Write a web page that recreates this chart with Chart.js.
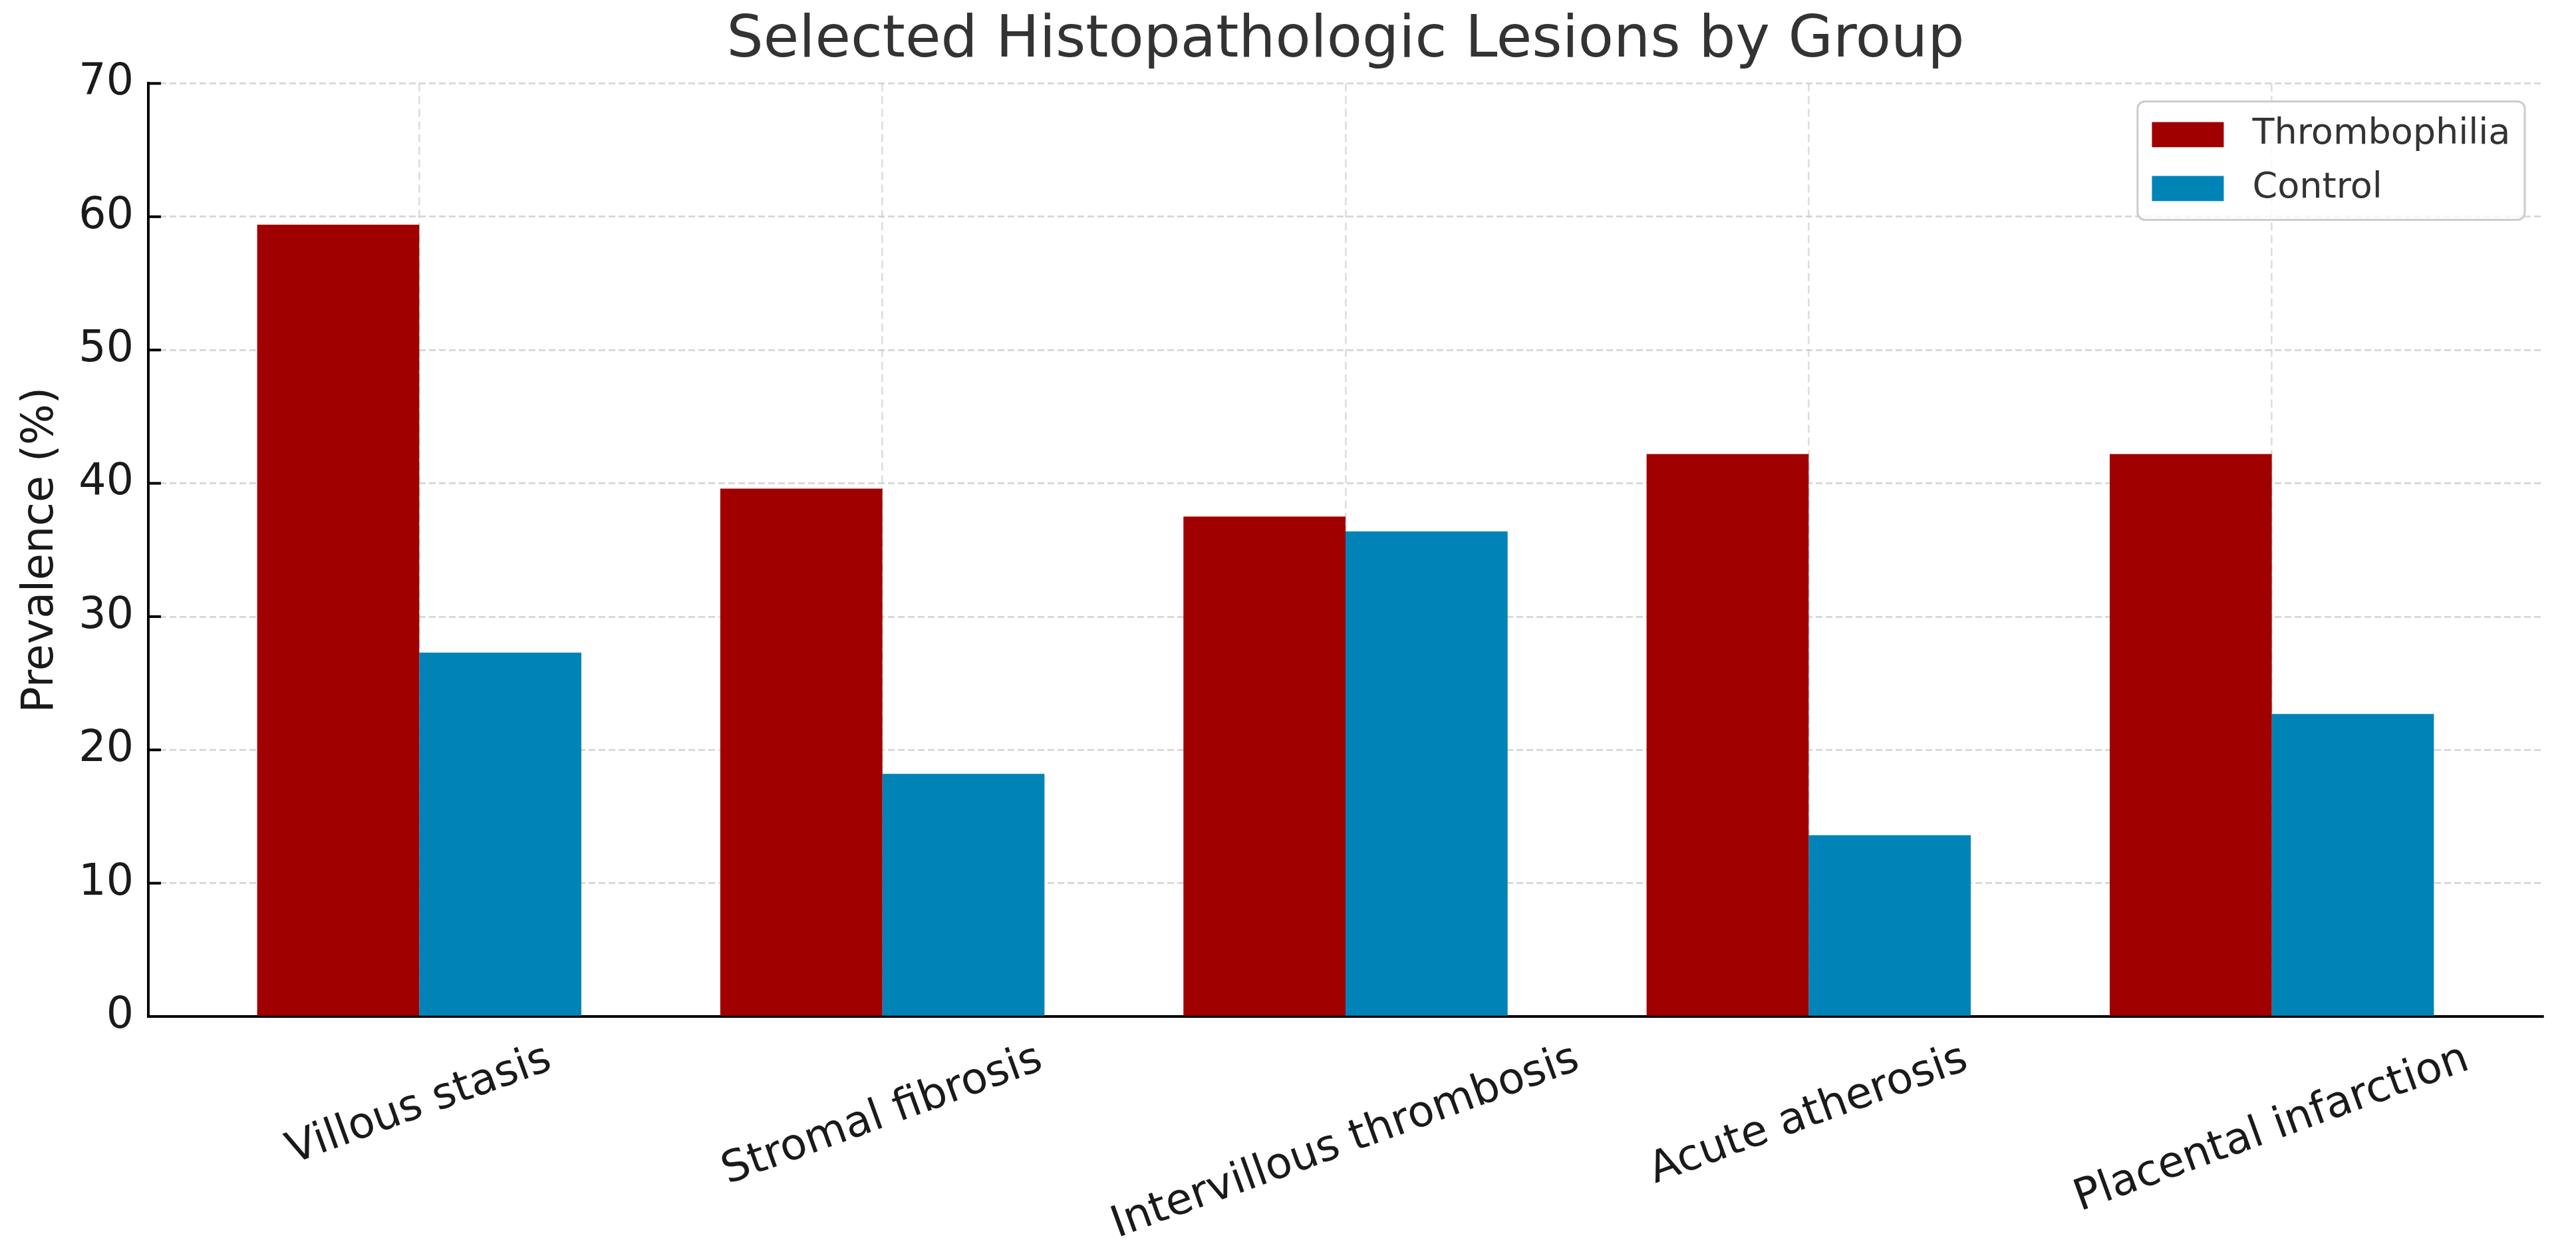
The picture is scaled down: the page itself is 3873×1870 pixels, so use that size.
<!DOCTYPE html>
<html>
<head>
<meta charset="utf-8">
<title>Selected Histopathologic Lesions by Group</title>
<script src="https://cdn.jsdelivr.net/npm/chart.js@4.4.0/dist/chart.umd.min.js"></script>
<style>
	html, body { margin: 0; padding: 0; background: #fff; }
	#chart { display: block; }
</style>
</head>
<body>
<canvas id="chart" width="3873" height="1870"></canvas>
<script>
"use strict";
const lesions = ["Villous stasis", "Stromal fibrosis", "Intervillous thrombosis", "Acute atherosis", "Placental infarction"];
const thrombophilia = [59.4, 39.6, 37.5, 42.2, 42.2];
const control = [27.3, 18.2, 36.4, 13.6, 22.7];
const yTicks = [0, 10, 20, 30, 40, 50, 60, 70];
const seriesNames = ["Thrombophilia", "Control"];
const seriesColors = ["#a00000", "#0084b8"];

const FONT = "'DejaVu Sans', sans-serif";
const gridColor = "rgba(200, 200, 200, 0.75)";

Chart.defaults.font.family = FONT;

const toPoints = (values) => values.map((v, i) => ({ x: i, y: v }));

// x labels: rotated 20deg, centred under the tick (matplotlib style)
const lesionLabels = {
	id: "lesionLabels",
	afterDraw(chart) {
		const { ctx, chartArea, scales } = chart;
		const angle = (20 * Math.PI) / 180;
		const size = 65;
		ctx.save();
		ctx.font = `${size}px ${FONT}`;
		ctx.fillStyle = "#1a1a1a";
		ctx.textAlign = "center";
		ctx.textBaseline = "middle";
		lesions.forEach((name, i) => {
			const w = ctx.measureText(name).width;
			const h = size * 1.164;
			const boxH = w * Math.sin(angle) + h * Math.cos(angle);
			const x = scales.x.getPixelForValue(i);
			const y = chartArea.bottom + 27 + boxH / 2;
			ctx.save();
			ctx.translate(x, y);
			ctx.rotate(-angle);
			ctx.fillText(name, 0, 0);
			ctx.restore();
		});

		// inward y ticks
		ctx.strokeStyle = "#000";
		ctx.lineWidth = 4;
		yTicks.forEach((v) => {
			const y = scales.y.getPixelForValue(v);
			ctx.beginPath();
			ctx.moveTo(chartArea.left, y);
			ctx.lineTo(chartArea.left + 19, y);
			ctx.stroke();
		});
		ctx.restore();
	},
};

// legend inside the plot, upper right
const insideLegend = {
	id: "insideLegend",
	afterDraw(chart) {
		const { ctx, chartArea } = chart;
		const fs = 54;
		ctx.save();
		ctx.font = `${fs}px ${FONT}`;
		const sets = chart.data.datasets;
		const textW = Math.max(...sets.map((d) => ctx.measureText(d.label).width));
		const pad = 0.4 * fs;
		const handleW = 2 * fs;
		const handleH = 0.7 * fs;
		const gap = 0.8 * fs;
		const boxW = pad * 2 + handleW + gap + textW;
		const boxH = 178;
		const right = chartArea.right - 0.5 * fs;
		const top = chartArea.top + 0.5 * fs;
		const left = right - boxW;

		ctx.beginPath();
		ctx.roundRect(left, top, boxW, boxH, 11);
		ctx.fillStyle = "rgba(255, 255, 255, 0.8)";
		ctx.fill();
		ctx.strokeStyle = "#cccccc";
		ctx.lineWidth = 3;
		ctx.stroke();

		ctx.textAlign = "left";
		ctx.textBaseline = "middle";
		sets.forEach((d, i) => {
			const cy = top + 50 + i * 81;
			ctx.fillStyle = d.backgroundColor;
			ctx.fillRect(left + pad, cy - handleH / 2, handleW, handleH);
			ctx.fillStyle = "#333";
			ctx.fillText(d.label, left + pad + handleW + gap, cy);
		});
		ctx.restore();
	},
};

const ctx = document.getElementById("chart").getContext("2d");
const lesionChart = new Chart(ctx, {
	type: "bar",
	data: {
		datasets: [
			{ label: seriesNames[0], data: toPoints(thrombophilia), backgroundColor: seriesColors[0] },
			{ label: seriesNames[1], data: toPoints(control), backgroundColor: seriesColors[1] },
		],
	},
	options: {
		responsive: false,
		animation: false,
		devicePixelRatio: 1,
		datasets: {
			bar: { categoryPercentage: 0.7, barPercentage: 1.0 },
		},
		layout: { padding: { left: 0, right: 50, top: 0, bottom: 0 } },
		plugins: {
			legend: { display: false },
			tooltip: { enabled: false },
			title: {
				display: true,
				fullSize: false,
				text: "Selected Histopathologic Lesions by Group",
				color: "#333",
				font: { size: 87, weight: "normal", family: FONT },
				padding: { top: 10, bottom: 11 },
			},
		},
		scales: {
			x: {
				type: "linear",
				min: -0.585,
				max: 4.585,
				offset: false,
				z: 1,
				afterBuildTicks: (scale) => {
					scale.ticks = lesions.map((_, i) => ({ value: i }));
				},
				afterFit: (scale) => {
					scale.height = 342;
				},
				ticks: { display: false },
				grid: { offset: false, color: "rgba(200, 200, 200, 0.6)", lineWidth: 2.7, drawTicks: false },
				border: { display: true, color: "#000", width: 4, dash: [12, 7] },
			},
			y: {
				type: "linear",
				min: 0,
				max: 70,
				z: 1,
				afterBuildTicks: (scale) => {
					scale.ticks = yTicks.map((v) => ({ value: v }));
				},
				afterFit: (scale) => {
					scale.width = 223;
				},
				ticks: {
					color: "#1a1a1a",
					font: { size: 65 },
					padding: 22,
				},
				grid: { color: gridColor, lineWidth: 2.7, drawTicks: false },
				border: { display: true, color: "#000", width: 4, dash: [10, 5] },
				title: {
					display: true,
					text: "Prevalence (%)",
					color: "#1a1a1a",
					font: { size: 65 },
					padding: { top: 23, bottom: 0 },
				},
			},
		},
	},
	plugins: [lesionLabels, insideLegend],
});
</script>
</body>
</html>
